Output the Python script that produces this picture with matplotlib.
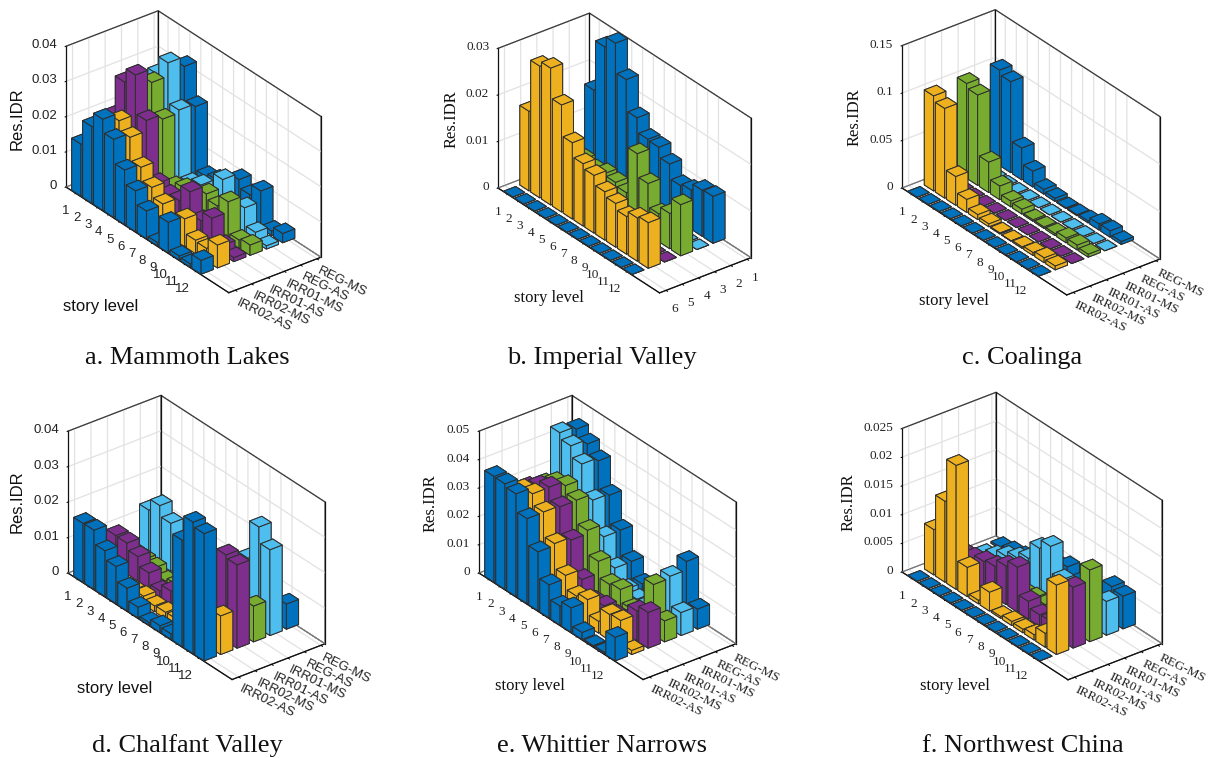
import numpy as np
import matplotlib
matplotlib.use("Agg")
import matplotlib.pyplot as plt
from mpl_toolkits.mplot3d import proj3d

plt.rcParams["grid.color"] = "#e2e2e2"
plt.rcParams["grid.linewidth"] = 0.9

W, H = 1208, 758

structures = ["IRR02-AS", "IRR02-MS", "IRR01-AS", "IRR01-MS", "REG-AS", "REG-MS"]
numbers = ["6", "5", "4", "3", "2", "1"]
stories = [str(i) for i in range(1, 13)]
colors = ["#0072BD", "#EDB120", "#7E2F8E", "#77AC30", "#4DBEEE", "#0072BD"]

# residual IDR, one row per structure (front to back), one column per story
mammoth = [
    [.0148, .0218, .0259, .0222, .0155, .0116, .0079, .0009, .0087, .0011, .0009, .0039],
    [.0120, .0180, .0237, .0210, .0145, .0108, .0081, .0020, .0079, .0038, .0035, .0065],
    [.0193, .0309, .0349, .0240, .0081, .0068, .0073, .0118, .0056, .0083, .0026, .0011],
    [.0200, .0290, .0310, .0226, .0054, .0069, .0050, .0094, .0080, .0112, .0023, .0029],
    [.0170, .0296, .0348, .0234, .0046, .0061, .0040, .0117, .0040, .0077, .0027, .0009],
    [.0170, .0280, .0320, .0226, .0047, .0057, .0030, .0099, .0076, .0107, .0013, .0026],
]
imperial = [
    [0, 0, 0, 0, 0, 0, 0, 0, 0, 0, 0, 0],
    [.0171, .0283, .0294, .0230, .0164, .0134, .0124, .0104, .0094, .0081, .0093, .0098],
    [0, 0, 0, 0, 0, 0, 0, 0, 0, 0, 0, 0],
    [.0070, .0070, .0071, .0064, .0071, .0067, .0060, .0159, .0110, .0060, .0076, .0110],
    [0, 0, 0, 0, 0, 0, 0, 0, 0, 0, 0, 0],
    [.0163, .0271, .0294, .0231, .0164, .0133, .0131, .0110, .0079, .0084, .0099, .0101],
]
coalinga = [
    [0, 0, 0, 0, 0, 0, 0, 0, 0, 0, 0, 0],
    [.1001, .0945, .0303, .0136, .0052, .0030, .0010, .0003, .0015, .0030, .0050, .0040],
    [0, 0, 0, 0, 0, 0, 0, 0, 0, 0, 0, 0],
    [.0998, .0952, .0321, .0143, .0060, .0050, .0015, .0015, .0020, .0050, .0050, .0030],
    [0, 0, 0, 0, 0, 0, 0, 0, 0, 0, 0, 0],
    [.1005, .0959, .0335, .0167, .0049, .0031, .0006, .0010, .0020, .0063, .0066, .0030],
]
chalfant = [
    [.0166, .0167, .0129, .0105, .0064, .0030, .0007, .0018, .0015, .0300, .0371, .0359],
    [.0030, .0020, .0020, .0020, .0023, .0016, .0018, .0019, .0030, .0040, .0080, .0109],
    [.0096, .0095, .0077, .0051, .0020, .0040, .0020, .0020, .0030, .0120, .0243, .0235],
    [.0030, .0030, .0027, .0010, .0020, .0020, .0020, .0020, .0020, .0030, .0040, .0101],
    [.0132, .0165, .0135, .0100, .0080, .0050, .0030, .0030, .0060, .0178, .0286, .0242],
    [.0060, .0080, .0080, .0060, .0040, .0030, .0020, .0020, .0040, .0080, .0040, .0071],
]
whittier = [
    [.0373, .0372, .0362, .0300, .0208, .0117, .0067, .0086, .0024, .0003, .0005, .0083],
    [.0300, .0330, .0340, .0301, .0215, .0128, .0080, .0093, .0041, .0091, .0095, .0014],
    [.0290, .0320, .0341, .0297, .0205, .0091, .0040, .0048, .0040, .0050, .0106, .0126],
    [.0280, .0310, .0324, .0298, .0217, .0133, .0077, .0084, .0040, .0050, .0177, .0074],
    [.0438, .0417, .0378, .0276, .0172, .0087, .0037, .0027, .0030, .0060, .0184, .0081],
    [.0428, .0401, .0367, .0271, .0173, .0088, .0033, .0030, .0040, .0080, .0214, .0071],
]
northwest = [
    [0, 0, 0, 0, 0, 0, 0, 0, 0, 0, 0, 0],
    [.0079, .0141, .0216, .0051, .0006, .0033, .0003, .0007, .0006, .0009, .0024, .0121],
    [.0040, .0040, .0043, .0050, .0054, .0067, .0078, .0031, .0020, .0021, .0030, .0106],
    [.0010, .0010, .0010, .0010, .0010, .0010, .0013, .0014, .0010, .0010, .0010, .0125],
    [.0002, .0012, .0024, .0034, .0046, .0076, .0092, .0046, .0030, .0020, .0030, .0059],
    [.0003, .0008, .0012, .0018, .0025, .0035, .0045, .0030, .0020, .0020, .0061, .0057],
]

panels = [
    (mammoth, [0, .01, .02, .03, .04], ["0", "0.01", "0.02", "0.03", "0.04"], structures,
     "a. Mammoth Lakes", "Liberation Sans", (66, 187), 255, (187, 358), (101, 306), (17, 119)),
    (imperial, [0, .01, .02, .03], ["0", "0.01", "0.02", "0.03"], numbers,
     "b. Imperial Valley", "Liberation Serif", (498, 188), 253, (602, 358), (549, 298), (452, 119)),
    (coalinga, [0, .05, .1, .15], ["0", "0.05", "0.1", "0.15"], structures,
     "c. Coalinga", "Liberation Serif", (902, 188), 258, (1022, 358), (954, 301), (855, 117)),
    (chalfant, [0, .01, .02, .03, .04], ["0", "0.01", "0.02", "0.03", "0.04"], structures,
     "d. Chalfant Valley", "Liberation Sans", (68, 573), 257, (187, 746), (115, 688), (17, 502)),
    (whittier, [0, .01, .02, .03, .04, .05], ["0", "0.01", "0.02", "0.03", "0.04", "0.05"], structures,
     "e. Whittier Narrows", "Liberation Serif", (479, 573), 257, (602, 746), (530, 686), (431, 503)),
    (northwest, [0, .005, .01, .015, .02, .025], ["0", "0.005", "0.01", "0.015", "0.02", "0.025"], structures,
     "f. Northwest China", "Liberation Serif", (902, 572), 260, (1023, 746), (955, 686), (849, 502)),
]

XLIM = (0.1, 15.0)
YLIM = (0.6, 6.25)
BOX = (266, 116, 162)
AXES_PX = 420


def fit_box(ax, corner, width):
    """Scale and move the axes so the left floor corner lands on a pixel."""
    zmin = ax.get_zlim()[0]
    view = ax.viewLim

    def project(x, y):
        x2, y2, _ = proj3d.proj_transform(x, y, zmin, ax.get_proj())
        return x2, y2

    ax.set_box_aspect(BOX, zoom=1)
    span = project(XLIM[1], YLIM[1])[0] - project(XLIM[0], YLIM[0])[0]
    ax.set_box_aspect(BOX, zoom=width / (span * AXES_PX / view.width))
    x2, y2 = project(XLIM[0], YLIM[0])
    left = corner[0] - (x2 - view.x0) / view.width * AXES_PX
    bottom = (H - corner[1]) - (y2 - view.y0) / view.height * AXES_PX
    ax.set_position([left / W, bottom / H, AXES_PX / W, AXES_PX / H])


def put_text(x, y, s, **kw):
    fig.text(x / W, 1 - y / H, s, ha="center", va="center", color="#111111", **kw)


def draw_frame(ax, ztop):
    # grid is painted over the pane edges, so the box outline goes on top of it
    x0, x1 = XLIM
    y0, y1 = YLIM
    dark = dict(color="#333333", lw=0.8, zorder=-2)
    ax.plot([x0, x0, x1], [y0, y1, y1], [ztop, ztop, ztop], **dark)
    ax.plot([x0, x0], [y1, y1], [0, ztop], color="#111111", lw=0.9, zorder=-2)
    ax.plot([x1, x1], [y1, y1], [0, ztop], color="#111111", lw=0.9, zorder=-2)
    ax.plot([x0, x0, x1], [y0, y1, y1], [0, 0, 0], color="#666666", lw=0.7, zorder=-2)


fig = plt.figure(figsize=(W / 100, H / 100), dpi=100)

for data, zt, ztl, ylabels, title, font, corner, width, tpos, xlab, zlab in panels:
    ax = fig.add_axes([0, 0, AXES_PX / W, AXES_PX / H], projection="3d",
                      proj_type="ortho", computed_zorder=False)
    ax.patch.set_alpha(0)
    ax.view_init(elev=30, azim=-37.6)

    draw_frame(ax, zt[-1])

    # painter's order: back rows first, low stories first
    order = 0
    for j in range(5, -1, -1):
        for i in range(12):
            ax.bar3d(i + 1 - 0.42, j + 1 - 0.37, 0, 0.84, 0.74, data[j][i],
                     color=colors[j], edgecolor="#2e2e2e", linewidth=0.7,
                     shade=False, zorder=order)
            order += 1

    ax.set_xlim(*XLIM)
    ax.set_ylim(*YLIM)
    ax.set_zlim(zt[0], zt[-1])

    ax.set_xticks(range(1, 13))
    ax.set_xticklabels(stories, fontsize=9.5, family=font, color="#222222", ha="right")
    ax.set_yticks(range(1, 7))
    if ylabels is numbers:
        ax.set_yticklabels(ylabels, fontsize=9.5, family=font, color="#222222")
        ax.tick_params(axis="y", pad=0)
    else:
        ax.set_yticklabels(ylabels, fontsize=9.5, family=font, color="#222222",
                           rotation=-26, ha="left", va="top", rotation_mode="anchor")
        ax.tick_params(axis="y", pad=-4)
    ax.set_zticks(zt)
    ax.set_zticklabels(ztl, fontsize=9.5, family=font, color="#222222", ha="right",
                       va="center_baseline")
    ax.tick_params(axis="x", pad=2.5)
    ax.tick_params(axis="z", pad=-2.5)

    ax.zaxis.set_ticks_position("lower")

    for axis in (ax.xaxis, ax.yaxis, ax.zaxis):
        axis.pane.set_alpha(None)
        axis.pane.set_facecolor((1, 1, 1, 0))
        axis.pane.set_edgecolor("#444444")
        axis.pane.set_linewidth(0.8)
        axis.line.set_color("#111111")
        axis.line.set_linewidth(0.9)
        axis._axinfo["tick"]["inward_factor"] = 0.12
        axis._axinfo["tick"]["outward_factor"] = 0.0
        axis._axinfo["tick"]["linewidth"] = {True: 0.7, False: 0.5}
        axis._axinfo["tick"]["color"] = "#222222"

    fit_box(ax, corner, width)
    put_text(*tpos, title, fontsize=19, family="Liberation Serif")
    put_text(*xlab, "story level", fontsize=12, family=font)
    put_text(*zlab, "Res.IDR", fontsize=12, family=font, rotation=90)

fig.savefig("out.png", dpi=100)
